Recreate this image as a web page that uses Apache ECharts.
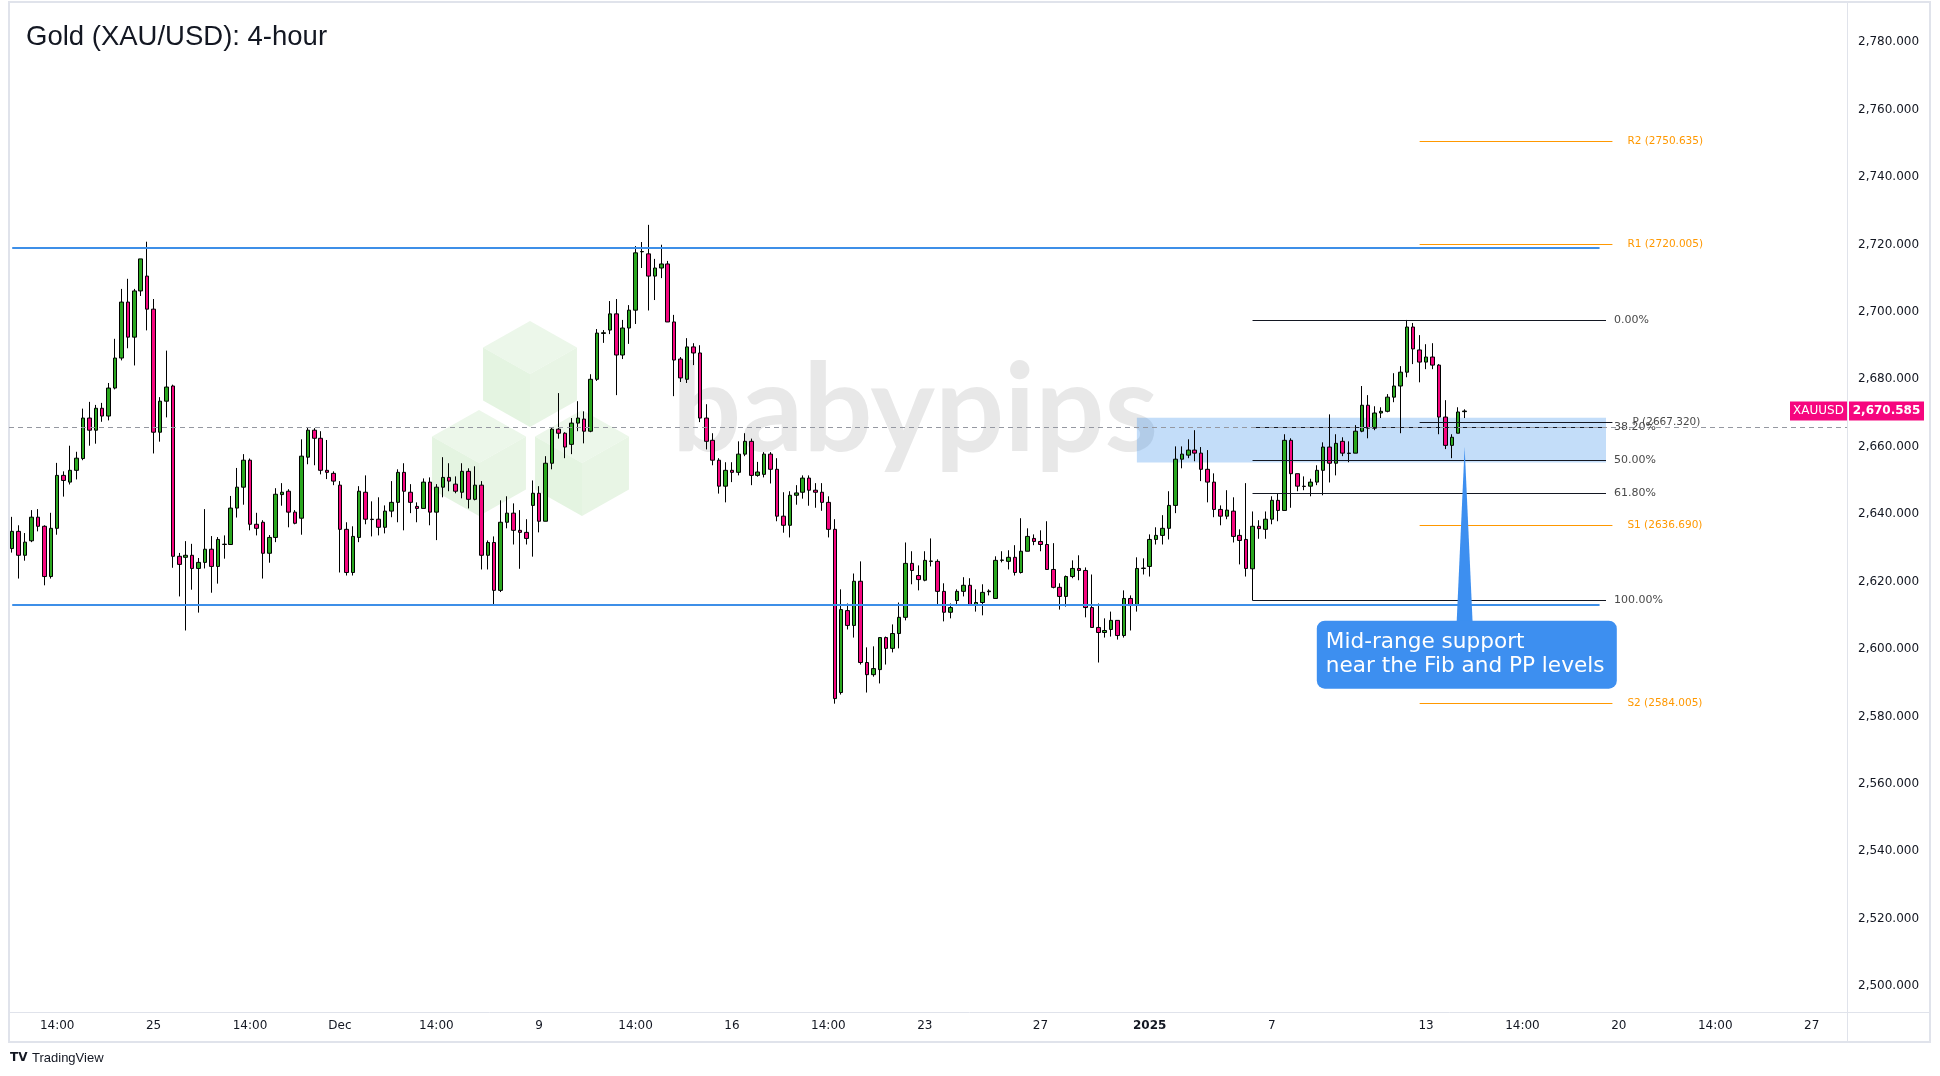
<!DOCTYPE html>
<html><head><meta charset="utf-8">
<script src="https://cdn.jsdelivr.net/npm/echarts@6/dist/echarts.min.js"></script>
<style>html,body{margin:0;padding:0;background:#fff;}#chart{width:1940px;height:1076px;}</style>
</head><body><div id="chart"></div>
<script>
// ---- candle data (4-hour bars) ----
const opens = [2629.8,2634.9,2627.8,2632.1,2639.1,2636.4,2621.5,2635.8,2651.5,2649.5,2653.0,2656.5,2668.5,2664.9,2671.4,2669.1,2677.4,2686.3,2702.9,2692.5,2706.2,2710.6,2700.8,2664.3,2673.5,2678.0,2627.5,2627.2,2627.8,2623.9,2625.7,2629.6,2624.5,2631.0,2631.0,2641.8,2648.0,2656.0,2637.0,2637.6,2628.4,2633.1,2645.8,2646.8,2640.6,2638.8,2656.9,2664.9,2662.5,2653.0,2652.1,2648.6,2635.5,2622.7,2633.1,2646.5,2638.5,2638.5,2636.1,2640.9,2643.5,2652.4,2646.5,2642.3,2641.7,2649.5,2640.6,2648.0,2650.9,2648.9,2646.5,2652.7,2644.4,2648.6,2627.8,2631.6,2617.4,2637.6,2640.3,2635.2,2634.6,2642.6,2646.2,2637.9,2655.1,2665.2,2664.0,2660.7,2667.0,2668.2,2664.6,2680.0,2693.6,2694.6,2699.4,2687.2,2695.2,2700.5,2717.8,2717.2,2710.6,2713.0,2714.2,2697.0,2686.0,2680.0,2689.6,2687.8,2668.5,2661.9,2656.0,2648.3,2653.0,2652.4,2657.8,2661.6,2651.5,2651.8,2657.8,2653.3,2639.4,2636.7,2645.6,2646.5,2650.7,2647.1,2646.5,2643.5,2635.5,2587.1,2611.4,2607.0,2620.1,2596.0,2592.4,2593.9,2603.4,2600.2,2604.6,2609.4,2625.4,2621.8,2620.4,2626.0,2626.0,2617.1,2610.9,2614.4,2617.1,2618.9,2613.2,2613.8,2617.0,2615.0,2626.3,2626.0,2627.2,2622.7,2629.0,2632.8,2631.9,2631.0,2623.6,2618.3,2615.6,2621.5,2623.9,2623.3,2612.3,2606.4,2604.9,2605.8,2608.5,2604.0,2615.0,2612.9,2623.9,2624.5,2632.5,2633.7,2635.8,2642.6,2656.3,2657.5,2659.0,2658.1,2653.3,2649.5,2641.4,2639.4,2640.9,2633.7,2632.5,2623.8,2636.4,2635.5,2638.5,2644.1,2641.1,2661.9,2652.0,2648.3,2648.3,2649.5,2653.0,2659.9,2655.1,2661.6,2658.1,2658.1,2664.6,2672.3,2665.5,2670.0,2670.5,2674.7,2678.0,2682.1,2695.5,2688.7,2685.1,2686.6,2684.2,2668.8,2660.4,2664.0,2670.4];
const closes = [2634.9,2627.8,2631.7,2639.1,2636.4,2621.5,2635.8,2651.5,2650.0,2653.0,2656.6,2668.5,2664.9,2671.4,2669.1,2677.4,2686.3,2702.9,2692.5,2706.2,2715.7,2700.8,2664.3,2673.5,2677.7,2627.5,2625.1,2627.8,2623.9,2625.7,2629.6,2624.5,2632.5,2631.1,2641.8,2648.0,2656.0,2637.0,2635.8,2628.4,2633.1,2645.9,2646.5,2640.6,2637.3,2657.2,2664.9,2662.5,2653.0,2652.4,2649.8,2635.5,2622.7,2633.4,2646.8,2638.5,2638.4,2636.1,2640.9,2643.5,2652.4,2646.8,2643.5,2641.7,2649.5,2640.6,2648.0,2650.9,2649.8,2646.8,2652.7,2644.4,2648.6,2627.8,2631.6,2617.4,2637.6,2640.3,2635.2,2634.6,2632.8,2646.2,2637.9,2655.1,2665.2,2664.0,2659.9,2667.0,2668.5,2664.6,2680.0,2693.7,2693.8,2699.4,2687.2,2695.2,2700.5,2717.5,2717.9,2710.6,2713.0,2714.2,2697.0,2685.7,2680.4,2689.6,2687.8,2668.5,2661.6,2656.0,2648.3,2653.0,2652.4,2657.8,2661.6,2651.5,2652.5,2657.8,2653.3,2639.4,2636.7,2645.6,2646.3,2650.7,2647.1,2646.5,2643.5,2635.5,2585.3,2611.7,2607.0,2620.1,2596.0,2592.4,2594.2,2603.4,2600.2,2604.6,2609.4,2625.4,2623.3,2620.6,2626.3,2626.1,2617.1,2610.9,2612.3,2617.1,2618.9,2613.2,2613.8,2616.8,2617.2,2626.3,2626.4,2627.2,2622.7,2629.0,2633.4,2631.9,2631.0,2623.6,2618.3,2615.6,2621.5,2623.9,2623.3,2612.3,2606.4,2604.9,2605.5,2608.5,2604.0,2615.0,2612.9,2623.9,2624.0,2632.5,2633.7,2635.8,2642.6,2656.3,2657.8,2659.0,2658.1,2653.3,2649.5,2641.4,2639.4,2641.2,2633.4,2632.2,2623.9,2636.4,2635.7,2638.5,2644.1,2641.1,2661.9,2652.0,2648.3,2648.2,2649.5,2653.0,2659.9,2655.1,2661.0,2658.1,2658.0,2664.6,2672.3,2665.5,2670.0,2670.5,2674.7,2678.0,2682.1,2695.5,2689.0,2685.1,2686.6,2684.2,2668.8,2660.4,2662.8,2670.3,2670.585];
const lows = [2628.6,2620.9,2626.2,2631.7,2634.9,2618.9,2620.9,2633.9,2645.2,2648.8,2650.3,2656.0,2660.3,2660.9,2667.4,2667.8,2677.0,2685.6,2689.2,2684.1,2704.7,2694.5,2658.0,2661.5,2668.7,2624.1,2615.6,2605.5,2617.6,2610.8,2623.9,2616.7,2619.4,2626.8,2631.0,2639.0,2642.8,2635.2,2633.7,2620.9,2625.6,2631.7,2642.5,2636.1,2637.0,2633.9,2654.8,2654.5,2651.8,2650.4,2648.6,2622.7,2621.8,2621.8,2631.7,2637.0,2633.4,2633.7,2634.3,2639.1,2637.6,2635.2,2640.3,2637.6,2641.7,2636.7,2632.3,2645.0,2646.8,2646.2,2644.7,2641.7,2644.1,2623.6,2623.6,2612.9,2616.9,2635.8,2631.0,2623.8,2631.0,2627.4,2634.6,2637.9,2653.3,2662.4,2656.6,2657.8,2664.6,2661.0,2664.3,2679.5,2690.8,2693.4,2675.3,2686.0,2690.5,2696.4,2713.0,2700.4,2703.5,2710.0,2697.0,2675.0,2679.2,2678.9,2684.2,2667.3,2659.2,2654.5,2646.1,2643.5,2649.5,2651.5,2657.2,2648.6,2651.1,2650.9,2649.1,2637.9,2634.5,2633.1,2642.8,2644.6,2642.5,2641.9,2641.0,2633.1,2583.8,2586.5,2605.8,2603.4,2595.4,2587.1,2591.8,2589.8,2595.4,2599.0,2600.2,2608.5,2619.2,2617.4,2620.1,2624.5,2613.0,2608.2,2609.1,2613.2,2615.6,2612.9,2611.1,2610.0,2615.9,2615.0,2625.7,2623.6,2621.8,2622.4,2629.0,2630.8,2629.0,2623.6,2618.0,2611.7,2612.6,2621.0,2620.4,2609.4,2606.4,2596.0,2603.4,2603.7,2602.8,2603.4,2605.5,2611.1,2622.1,2621.5,2631.0,2631.0,2632.5,2640.3,2653.6,2656.6,2655.7,2649.8,2643.5,2639.1,2636.7,2638.5,2631.6,2625.1,2621.5,2614.4,2632.7,2632.7,2637.0,2637.9,2641.1,2641.9,2646.8,2647.1,2645.3,2648.6,2645.6,2649.4,2651.5,2657.2,2655.4,2658.1,2664.3,2662.5,2664.9,2668.5,2670.2,2673.2,2664.0,2680.6,2684.5,2679.1,2683.0,2683.0,2663.7,2659.3,2656.6,2664.0,2668.5];
const highs = [2639.2,2636.7,2634.4,2641.2,2641.5,2636.7,2640.4,2655.2,2652.7,2660.3,2658.5,2671.3,2673.3,2672.4,2673.0,2678.9,2692.0,2706.8,2709.8,2706.8,2715.7,2720.8,2703.8,2674.7,2688.5,2678.4,2628.5,2632.0,2631.2,2627.0,2641.5,2633.5,2633.2,2633.7,2645.4,2653.7,2657.8,2656.5,2640.4,2638.2,2633.8,2647.7,2649.2,2647.4,2641.2,2662.2,2665.8,2665.5,2664.6,2662.0,2652.7,2649.8,2637.6,2636.4,2648.3,2651.5,2643.8,2645.0,2642.6,2649.8,2653.3,2655.1,2648.9,2643.5,2650.6,2650.9,2648.9,2656.9,2655.1,2651.2,2655.1,2653.6,2654.2,2649.8,2632.2,2633.4,2644.1,2645.3,2643.2,2641.2,2638.5,2650.0,2648.3,2657.2,2665.8,2675.9,2664.3,2668.5,2673.5,2670.5,2681.5,2694.9,2694.6,2703.2,2703.8,2697.6,2702.0,2719.5,2720.7,2725.8,2715.7,2719.9,2715.1,2699.1,2686.6,2692.2,2690.7,2690.1,2672.6,2664.0,2656.6,2655.4,2655.4,2661.6,2664.0,2662.4,2655.5,2658.4,2658.4,2656.6,2646.5,2646.8,2648.6,2651.5,2651.5,2649.2,2649.2,2645.3,2638.5,2617.7,2613.5,2622.4,2626.0,2600.5,2600.8,2603.4,2603.7,2607.3,2613.8,2631.6,2629.0,2624.8,2629.0,2632.8,2626.6,2619.5,2613.5,2617.7,2621.3,2621.0,2617.7,2619.2,2617.7,2627.5,2629.0,2629.3,2630.8,2638.8,2635.8,2634.0,2635.2,2637.9,2631.4,2619.5,2621.8,2626.3,2627.8,2624.2,2622.1,2613.5,2609.1,2611.1,2608.5,2617.4,2615.9,2627.2,2626.9,2634.0,2636.1,2639.7,2646.8,2660.1,2660.1,2662.2,2664.9,2659.9,2659.0,2652.1,2642.6,2647.1,2645.0,2635.5,2649.2,2640.8,2638.2,2640.8,2645.3,2646.2,2663.7,2662.5,2652.0,2651.2,2650.5,2654.5,2661.3,2669.6,2663.7,2662.8,2661.6,2666.4,2678.0,2675.3,2672.0,2671.7,2675.6,2681.8,2683.9,2697.6,2696.7,2693.1,2690.4,2690.7,2684.5,2673.8,2663.7,2671.7,2671.1];

// ---- axis ticks ----
const totalBars = 286; // bar slots across the plot (incl. empty future space)
const xTickIndex = [7,22,37,51,66,82,97,112,127,142,160,177,196,220,235,250,265,280];
const xTickLabel = ['14:00','25','14:00','Dec','14:00','9','14:00','16','14:00','23','27','2025','7','13','14:00','20','14:00','27'];
const yTickValues = [2500,2520,2540,2560,2580,2600,2620,2640,2660,2680,2700,2720,2740,2760,2780];

// ---- drawings ----
const rangeLevels = [2719.0, 2613.1];
const rangeEndIdx = 247;
const fibPrices = [2697.6, 2665.8, 2656.0, 2646.2, 2614.4];
const fibNames = ['0.00%', '38.20%', '50.00%', '61.80%', '100.00%'];
const fibStartIdx = 193, fibEndIdx = 248;
const pivotNames = ['R2', 'R1', 'P', 'S1', 'S2'];
const pivotPrices = [2750.635, 2720.005, 2667.320, 2636.690, 2584.005];
const pivotStartIdx = 219, pivotEndIdx = 249;
const zoneBounds = [2668.6, 2655.3];
const zoneIdx = [175, 248];
const dashedLevel = 2665.8;
const lastPrice = 2670.585;
const calloutLines = ['Mid-range support', 'near the Fib and PP levels'];
const calloutTip = [226, 2660.0];
const calloutBoxAnchor = [203, 2608.4];

const GREEN = '#2aa71f', PINK = '#f6067f', ORANGE = '#ff9800';
const categories = [];
for (let i = 0; i < totalBars; i++) categories.push(String(i));
const candles = opens.map((o, i) => [o, closes[i], lows[i], highs[i]]);
const tickMap = {};
xTickIndex.forEach((k, j) => tickMap[k] = xTickLabel[j]);
const ySet = new Set(yTickValues);
const fmtPrice = v => v.toLocaleString('en-US', {minimumFractionDigits: 3, maximumFractionDigits: 3});

const ml = [];
rangeLevels.forEach(p => ml.push([
  {coord: [0, p], lineStyle: {color: '#3d8fe8', width: 2, type: 'solid'}, label: {show: false}},
  {coord: [rangeEndIdx, p]}]));
fibPrices.forEach((p, k) => ml.push([
  {coord: [fibStartIdx, p], lineStyle: {color: '#131722', width: 1, type: 'solid'},
   label: {show: true, position: 'end', distance: 8, formatter: fibNames[k], color: '#4a4a4a', fontSize: 11, fontFamily: 'DejaVu Sans'}},
  {coord: [fibEndIdx, p]}]));
pivotPrices.forEach((p, k) => ml.push([
  {coord: [pivotStartIdx, p], lineStyle: {color: pivotNames[k] === 'P' ? '#131722' : ORANGE, width: 1, type: 'solid'},
   label: {show: true, position: 'end', distance: pivotNames[k] === 'P' ? 20 : 15, formatter: pivotNames[k] + ' (' + p.toFixed(3) + ')',
     color: pivotNames[k] === 'P' ? '#4a4a4a' : ORANGE, fontSize: 10.5, fontFamily: 'DejaVu Sans'}},
  {coord: [pivotEndIdx, p]}]));
ml.push({yAxis: dashedLevel, lineStyle: {color: '#9598a1', width: 1, type: [5, 4]}, label: {show: false}});

const chart = echarts.init(document.getElementById('chart'), null, {renderer: 'canvas'});
const option = {
  animation: false,
  backgroundColor: '#ffffff',
  grid: {left: 9, right: 93, top: 5, height: 1008.2, containLabel: false},
  xAxis: {
    type: 'category', data: categories, boundaryGap: true,
    axisLine: {show: false}, axisTick: {show: false}, splitLine: {show: false},
    axisLabel: {
      interval: idx => tickMap[idx] !== undefined,
      formatter: (v) => { const t = tickMap[Number(v)]; return t === '2025' ? '{b|2025}' : (t || ''); },
      color: '#131722', fontSize: 12, fontFamily: 'DejaVu Sans', margin: 7,
      rich: {b: {fontWeight: 'bold', fontSize: 12, fontFamily: 'DejaVu Sans', color: '#131722'}}
    }
  },
  yAxis: {
    type: 'value', position: 'right', min: 2492, max: 2791, interval: 4, scale: true,
    axisLine: {show: false}, axisTick: {show: false}, splitLine: {show: false},
    axisLabel: {
      formatter: v => ySet.has(v) ? fmtPrice(v) : '',
      color: '#131722', fontSize: 12, fontFamily: 'DejaVu Sans', margin: 11
    }
  },
  series: [{
    name: 'XAUUSD', type: 'candlestick', data: candles, barWidth: 4, z: 3,
    itemStyle: {color: GREEN, color0: PINK, borderColor: '#000000', borderColor0: '#000000', borderWidth: 1},
    markLine: {symbol: ['none', 'none'], silent: true, animation: false, data: ml},
    markArea: {silent: true, itemStyle: {color: 'rgba(41,134,235,0.28)'},
      data: [[{coord: [zoneIdx[0], zoneBounds[0]]}, {coord: [zoneIdx[1], zoneBounds[1]]}]]}
  }]
};
chart.setOption(option);

// ---- decorations positioned through the chart's own scales ----
const px = (i, p) => chart.convertToPixel({gridIndex: 0}, [i, p]);
const tip = px(calloutTip[0], calloutTip[1]);
const boxTL = px(calloutBoxAnchor[0], calloutBoxAnchor[1]);
const yLast = px(0, lastPrice)[1];

function cube(cx, cy, r) {
  const w = r * 0.886;
  const T = [cx, cy - r], UR = [cx + w, cy - r / 2], LR = [cx + w, cy + r / 2], B = [cx, cy + r], LL = [cx - w, cy + r / 2], UL = [cx - w, cy - r / 2], C = [cx, cy];
  return [
    {type: 'polygon', z: 0, silent: true, shape: {points: [T, UR, C, UL]}, style: {fill: '#ecf7ea'}},
    {type: 'polygon', z: 0, silent: true, shape: {points: [UL, C, B, LL]}, style: {fill: '#e4f4e1'}},
    {type: 'polygon', z: 0, silent: true, shape: {points: [C, UR, LR, B]}, style: {fill: '#e8f5e5'}}
  ];
}

const graphics = [
  // outer frame and axis separators
  {type: 'rect', z: 0, silent: true, shape: {x: 9, y: 2, width: 1921, height: 1040}, style: {fill: 'none', stroke: '#e0e3eb', lineWidth: 2}},
  {type: 'line', z: 1, silent: true, shape: {x1: 1847.5, y1: 2, x2: 1847.5, y2: 1042}, style: {stroke: '#e0e3eb', lineWidth: 1}},
  {type: 'line', z: 1, silent: true, shape: {x1: 9, y1: 1012.5, x2: 1930, y2: 1012.5}, style: {stroke: '#e0e3eb', lineWidth: 1}},
  // watermark
  ...cube(530, 374, 53), ...cube(479, 463, 53), ...cube(582, 463, 53),
  {type: 'text', z: 0, silent: true, style: {text: 'babypips', x: 672, y: 412, fill: '#e8e8e8', font: 'bold 122px Lato', textAlign: 'left', textVerticalAlign: 'middle'}},
  // title
  {type: 'text', z: 100, style: {text: 'Gold (XAU/USD): 4-hour', x: 26, y: 37, fill: '#131722', font: '27.5px "Liberation Sans"', textVerticalAlign: 'middle'}},
  // footer logo
  {type: 'text', z: 100, style: {text: 'TV', x: 10, y: 1058, fill: '#131722', font: 'bold 12px "DejaVu Sans"', textVerticalAlign: 'middle'}},
  {type: 'text', z: 100, style: {text: 'TradingView', x: 32, y: 1058, fill: '#131722', font: '13px "Liberation Sans"', textVerticalAlign: 'middle'}},
  // last price labels
  {type: 'rect', z: 100, shape: {x: 1790, y: yLast - 9.5, width: 57, height: 19}, style: {fill: PINK}},
  {type: 'text', z: 101, style: {text: 'XAUUSD', x: 1818.5, y: yLast, fill: '#fff', font: '12px "DejaVu Sans"', textAlign: 'center', textVerticalAlign: 'middle'}},
  {type: 'rect', z: 100, shape: {x: 1849, y: yLast - 9.5, width: 75, height: 19}, style: {fill: PINK}},
  {type: 'text', z: 101, style: {text: fmtPrice(lastPrice), x: 1886.5, y: yLast, fill: '#fff', font: 'bold 12px "DejaVu Sans"', textAlign: 'center', textVerticalAlign: 'middle'}},
  // callout
  {type: 'polygon', z: 100, shape: {points: [[tip[0], tip[1]], [tip[0] - 8, boxTL[1] + 2], [tip[0] + 8, boxTL[1] + 2]]}, style: {fill: '#3d8ff0'}},
  {type: 'rect', z: 100, shape: {x: boxTL[0], y: boxTL[1], width: 300, height: 68, r: 8}, style: {fill: '#3d8ff0'}},
  {type: 'text', z: 101, style: {text: calloutLines.join('\n'), x: boxTL[0] + 9, y: boxTL[1] + 34, fill: '#ffffff', font: '21.6px "DejaVu Sans"', lineHeight: 24, textVerticalAlign: 'middle'}}
];
chart.setOption({graphic: {elements: graphics}});
</script></body></html>
